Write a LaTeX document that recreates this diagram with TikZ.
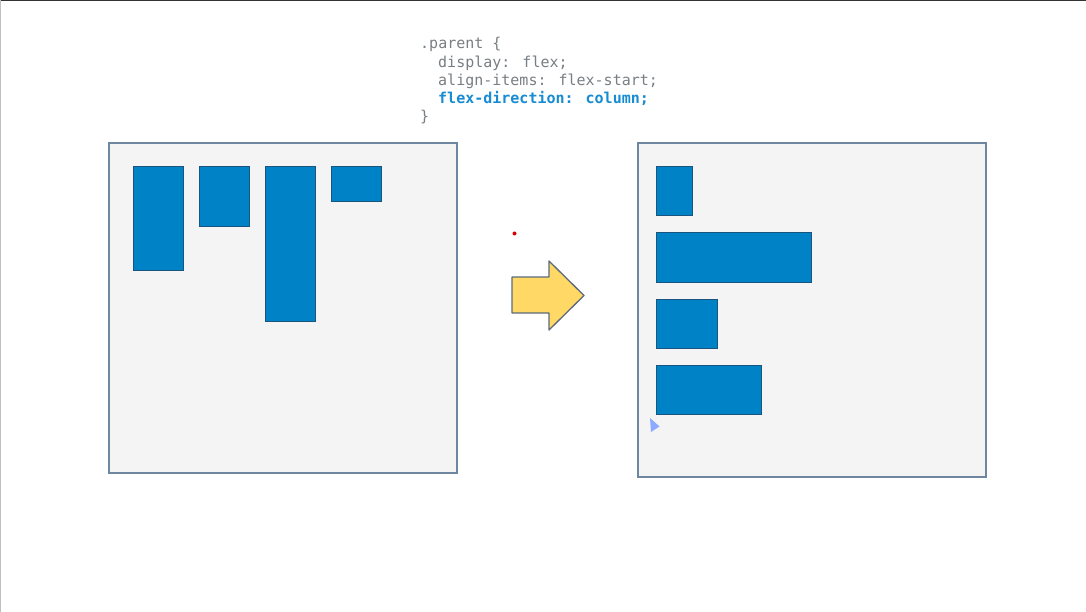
\documentclass[tikz,border=0pt]{standalone}
\usepackage{fontspec}
\newfontfamily\codefont{DejaVu Sans Mono}
\definecolor{itemfill}{RGB}{0,130,198}
\definecolor{itemdraw}{RGB}{28,84,128}
\definecolor{boxfill}{RGB}{244,244,244}
\definecolor{boxdraw}{RGB}{110,134,160}
\definecolor{arrowfill}{RGB}{255,216,102}
\definecolor{arrowdraw}{RGB}{90,106,122}
\definecolor{codegrey}{RGB}{120,126,131}
\definecolor{codeblue}{RGB}{24,140,210}
\definecolor{cursorblue}{RGB}{140,170,255}
\tikzset{
  container/.style={draw=boxdraw, fill=boxfill, line width=1.5pt},
  item/.style={draw=itemdraw, fill=itemfill, line width=1pt},
  codeline/.style={anchor=base west, inner sep=0pt, font=\codefont\fontsize{15}{18}\selectfont, text=codegrey},
}
\begin{document}
\begin{tikzpicture}[x=1pt,y=-1pt]
\useasboundingbox (0,0) rectangle (1086,612);
\fill[white] (0,0) rectangle (1086,612);
\draw[black!80, line width=1.5pt] (0,0.5) -- (1086,0.5);
\draw[black!25, line width=1.5pt] (0.5,0) -- (0.5,612);

% code
\node[codeline] (c1) at (420,49) {.parent \{};
\node[codeline] (c2) at (438,67.3) {display: flex;};
\node[codeline] (c3) at (438,85.6) {align-items: flex-start;};
\node[codeline, text=codeblue, font=\codefont\bfseries\fontsize{15}{18}\selectfont] (c4) at (438,104) {flex-direction: column;};
\node[codeline] (c5) at (420,122) {\}};

% left container
\draw[container] (109,143) rectangle (457,473);
\draw[item] (133,167) rectangle (183,270);
\draw[item] (199,167) rectangle (249,227);
\draw[item] (265,167) rectangle (315,321);
\draw[item] (331,167) rectangle (381,202);

% arrow
\draw[fill=arrowfill, draw=arrowdraw, line width=1.3pt, line join=round]
  (512,277) -- (549,277) -- (549,261) -- (584,295.5) -- (549,330) -- (549,313) -- (512,313) -- cycle;

% red dot
\fill[red!85!black] (514.5,233.5) circle (2);

% right container
\draw[container] (638,143) rectangle (986,477);
\draw[item] (656.5,167) rectangle (692,216);
\draw[item] (656.5,233) rectangle (811,282);
\draw[item] (656.5,299) rectangle (717,348);
\draw[item] (656.5,365) rectangle (761,414);

% cursor
\fill[cursorblue] (650,418) -- (659.5,426.5) -- (651,432) -- cycle;
\end{tikzpicture}
\end{document}
